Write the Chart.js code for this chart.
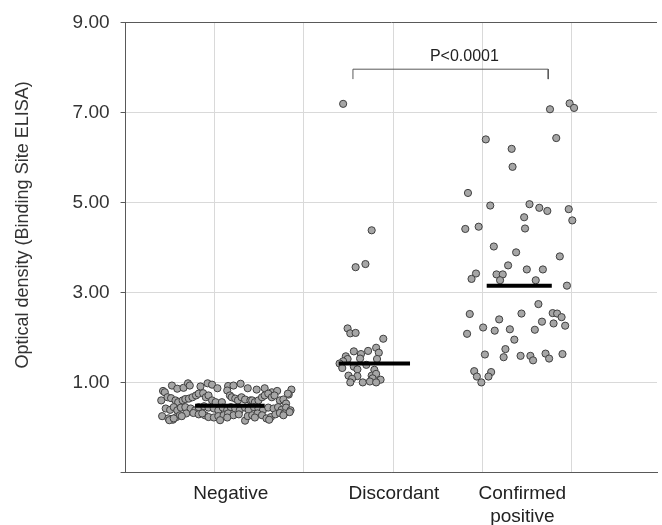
<!DOCTYPE html>
<html>
<head>
<meta charset="utf-8">
<script src="https://cdn.jsdelivr.net/npm/chart.js@4"></script>
<style>
  body { margin: 0; background: #fff; }
</style>
</head>
<body>
<canvas id="myChart" width="662" height="525"></canvas>
<script>
// categories and where their labels sit on the x axis
const categories = ["Negative", "Discordant", ["Confirmed", "positive"]];
const categoryX = [1.18, 3.01, 4.45];

// gridlines
const xGrid = [0, 1, 2, 3, 4, 5];
const yTicks = [-1, 1, 3, 5, 7, 9];

// points, [x, y]
const negativePoints = [
  [0.52, 0.93], [0.58, 0.86], [0.65, 0.88], [0.70, 0.98], [0.72, 0.93], [0.84, 0.91],
  [0.92, 0.98], [0.97, 0.95], [1.03, 0.87], [1.15, 0.92], [1.21, 0.93], [1.29, 0.97],
  [1.37, 0.87], [1.47, 0.84], [1.56, 0.87], [1.64, 0.78], [1.70, 0.81], [1.86, 0.84],
  [1.83, 0.73],
  [0.42, 0.81], [0.44, 0.78], [0.47, 0.67], [0.51, 0.65], [0.40, 0.60], [0.56, 0.60],
  [0.59, 0.56], [0.64, 0.60], [0.67, 0.63], [0.71, 0.64], [0.75, 0.67], [0.79, 0.71],
  [0.82, 0.75], [0.87, 0.76], [0.90, 0.67], [0.93, 0.71], [0.97, 0.60], [1.01, 0.56],
  [1.08, 0.56], [1.14, 0.82], [1.17, 0.71], [1.19, 0.67], [1.23, 0.64], [1.26, 0.60],
  [1.30, 0.67], [1.34, 0.62], [1.40, 0.60], [1.42, 0.60], [1.45, 0.56], [1.49, 0.60],
  [1.53, 0.67], [1.56, 0.71], [1.60, 0.75], [1.64, 0.67], [1.67, 0.71], [1.73, 0.60],
  [1.77, 0.62], [1.80, 0.53], [1.82, 0.75],
  [0.45, 0.42], [0.50, 0.39], [0.54, 0.45], [0.58, 0.38], [0.62, 0.44], [0.67, 0.45],
  [0.73, 0.42], [0.78, 0.38], [0.82, 0.45], [0.88, 0.47], [0.93, 0.44], [0.99, 0.42],
  [1.04, 0.38], [1.09, 0.44], [1.14, 0.39], [1.18, 0.45], [1.23, 0.42], [1.28, 0.38],
  [1.34, 0.44], [1.38, 0.39], [1.44, 0.45], [1.49, 0.42], [1.54, 0.38], [1.60, 0.44],
  [1.66, 0.42], [1.71, 0.45], [1.75, 0.39], [1.80, 0.44], [1.85, 0.38],
  [0.41, 0.25], [0.48, 0.20], [0.53, 0.17], [0.57, 0.23], [0.61, 0.27], [0.68, 0.31],
  [0.76, 0.32], [0.82, 0.29], [0.89, 0.27], [0.93, 0.23], [0.99, 0.22], [1.04, 0.25],
  [1.10, 0.27], [1.15, 0.31], [1.21, 0.27], [1.27, 0.29], [1.34, 0.15], [1.37, 0.25],
  [1.42, 0.27], [1.48, 0.31], [1.53, 0.27], [1.58, 0.20], [1.63, 0.23], [1.68, 0.29],
  [1.73, 0.32], [1.78, 0.31], [1.84, 0.34],
  [0.49, 0.16], [0.54, 0.20], [0.63, 0.25], [0.86, 0.31], [1.06, 0.16], [1.14, 0.22],
  [1.45, 0.22], [1.61, 0.17], [1.77, 0.27]
];

const discordantPoints = [
  [2.44, 7.19], [2.76, 4.38], [2.58, 3.56], [2.69, 3.63],
  [2.49, 2.20], [2.52, 2.09], [2.58, 2.10], [2.89, 1.97], [2.56, 1.69], [2.72, 1.70],
  [2.81, 1.77], [2.84, 1.66], [2.64, 1.63], [2.47, 1.58], [2.49, 1.52], [2.63, 1.53],
  [2.82, 1.52], [2.44, 1.47], [2.40, 1.42], [2.70, 1.39], [2.56, 1.35], [2.43, 1.32],
  [2.60, 1.29], [2.79, 1.28], [2.50, 1.15], [2.60, 1.14], [2.76, 1.15], [2.81, 1.19],
  [2.54, 1.08], [2.77, 1.09], [2.86, 1.06], [2.52, 1.00], [2.66, 1.00], [2.74, 1.02],
  [2.81, 1.00]
];

const confirmedPoints = [
  [4.76, 7.07], [4.98, 7.20], [5.03, 7.10], [4.04, 6.40], [4.83, 6.43], [4.33, 6.19],
  [4.34, 5.79], [3.84, 5.21], [4.09, 4.93], [4.53, 4.96], [4.64, 4.88], [4.73, 4.81],
  [4.97, 4.85], [4.47, 4.67], [5.01, 4.60], [3.81, 4.41], [3.96, 4.46], [4.48, 4.42],
  [4.13, 4.02], [4.38, 3.89], [4.87, 3.80], [4.29, 3.60], [4.50, 3.51], [4.68, 3.51],
  [3.93, 3.42], [3.88, 3.30], [4.16, 3.40], [4.23, 3.40], [4.20, 3.27], [4.60, 3.27],
  [4.95, 3.15], [4.63, 2.74], [3.86, 2.52], [4.44, 2.53], [4.79, 2.54], [4.84, 2.53],
  [4.89, 2.45], [4.19, 2.40], [4.67, 2.35], [4.80, 2.31], [4.93, 2.26], [4.01, 2.22],
  [4.14, 2.15], [4.31, 2.18], [4.59, 2.17], [3.83, 2.08], [4.36, 1.95], [4.26, 1.74],
  [4.03, 1.62], [4.24, 1.56], [4.43, 1.59], [4.54, 1.59], [4.57, 1.49], [4.71, 1.64],
  [4.75, 1.53], [4.90, 1.63], [3.91, 1.25], [4.10, 1.23], [3.94, 1.13], [4.07, 1.13],
  [3.99, 1.00]
];

// mean bars: value and the x span they cover
const meanValues = [0.48, 1.42, 3.15];
const meanFrom = [0.78, 2.39, 4.05];
const meanTo = [1.56, 3.19, 4.78];

// significance bracket
const bracketX = [2.55, 4.74];
const bracketTop = 7.96;
const bracketFoot = 7.74;
const pText = "P<0.0001";
const pTextPos = [3.8, 8.24];

const FONT = "'Liberation Sans', Arial, sans-serif";
const darkLine = "#595959";
const lightGrid = "#d9d9d9";

function toXY(points) {
  return points.map((p) => ({ x: p[0], y: p[1] }));
}

function pointSet(points) {
  return {
    type: "scatter",
    data: toXY(points),
    backgroundColor: "#a6a6a6",
    borderColor: "#3f3f3f",
    borderWidth: 1,
    pointRadius: 3.6,
    order: 2,
  };
}

const datasets = [
  pointSet(negativePoints),
  pointSet(discordantPoints),
  pointSet(confirmedPoints),
];

meanValues.forEach((m, i) => {
  datasets.push({
    type: "line",
    data: [{ x: meanFrom[i], y: m }, { x: meanTo[i], y: m }],
    borderColor: "#000",
    borderWidth: 4,
    pointRadius: 0,
    order: 0,
  });
});

datasets.push({
  type: "line",
  data: [
    { x: bracketX[0], y: bracketFoot },
    { x: bracketX[0], y: bracketTop },
    { x: bracketX[1], y: bracketTop },
    { x: bracketX[1], y: bracketFoot },
  ],
  borderColor: darkLine,
  borderWidth: 1,
  pointRadius: 0,
  order: 1,
});

// text above the bracket
const pLabel = {
  id: "pLabel",
  afterDatasetsDraw(chart) {
    const ctx = chart.ctx;
    const x = chart.scales.x.getPixelForValue(pTextPos[0]);
    const y = chart.scales.y.getPixelForValue(pTextPos[1]);
    ctx.save();
    ctx.font = "16px " + FONT;
    ctx.fillStyle = "#222";
    ctx.textAlign = "center";
    ctx.textBaseline = "middle";
    ctx.fillText(pText, x, y);
    ctx.restore();
  },
};

const ctx = document.getElementById("myChart").getContext("2d");
new Chart(ctx, {
  type: "scatter",
  data: { datasets: datasets },
  plugins: [pLabel],
  options: {
    responsive: false,
    animation: false,
    layout: { padding: { top: 5, right: 0, left: 0, bottom: -5 } },
    plugins: {
      legend: { display: false },
      tooltip: { enabled: false },
    },
    scales: {
      x: {
        type: "linear",
        min: 0,
        max: 5.96,
        afterBuildTicks: (scale) => {
          scale.ticks = xGrid.map((v) => ({ value: v }));
        },
        ticks: { display: false },
        grid: {
          drawTicks: false,
          color: (c) => (c.tick && c.tick.value === 0 ? darkLine : lightGrid),
        },
        border: { color: darkLine },
      },
      x2: {
        type: "linear",
        position: "bottom",
        min: 0,
        max: 5.96,
        afterBuildTicks: (scale) => {
          scale.ticks = categoryX.map((v) => ({ value: v }));
        },
        ticks: {
          padding: 2,
          maxRotation: 0,
          autoSkip: false,
          color: "#222",
          font: { family: FONT, size: 19 },
          callback: (v, i) => categories[i],
        },
        grid: { display: false },
        border: { display: false },
      },
      y: {
        min: -1,
        max: 9,
        afterBuildTicks: (scale) => {
          scale.ticks = yTicks.map((v) => ({ value: v }));
        },
        ticks: {
          padding: 11,
          color: "#333",
          font: { family: FONT, size: 19 },
          callback: (v) => (v === -1 ? "" : v.toFixed(2)),
        },
        grid: {
          tickLength: 5,
          tickColor: darkLine,
          color: (c) => (c.tick && (c.tick.value === 9 || c.tick.value === -1) ? darkLine : lightGrid),
        },
        border: { color: darkLine },
        title: {
          display: true,
          // leading spaces lift the title a little above the middle, as in the original
          text: "         Optical density (Binding Site ELISA)",
          color: "#333",
          font: { family: FONT, size: 18 },
          padding: { top: 12, bottom: 28 },
        },
      },
    },
  },
});
</script>
</body>
</html>
